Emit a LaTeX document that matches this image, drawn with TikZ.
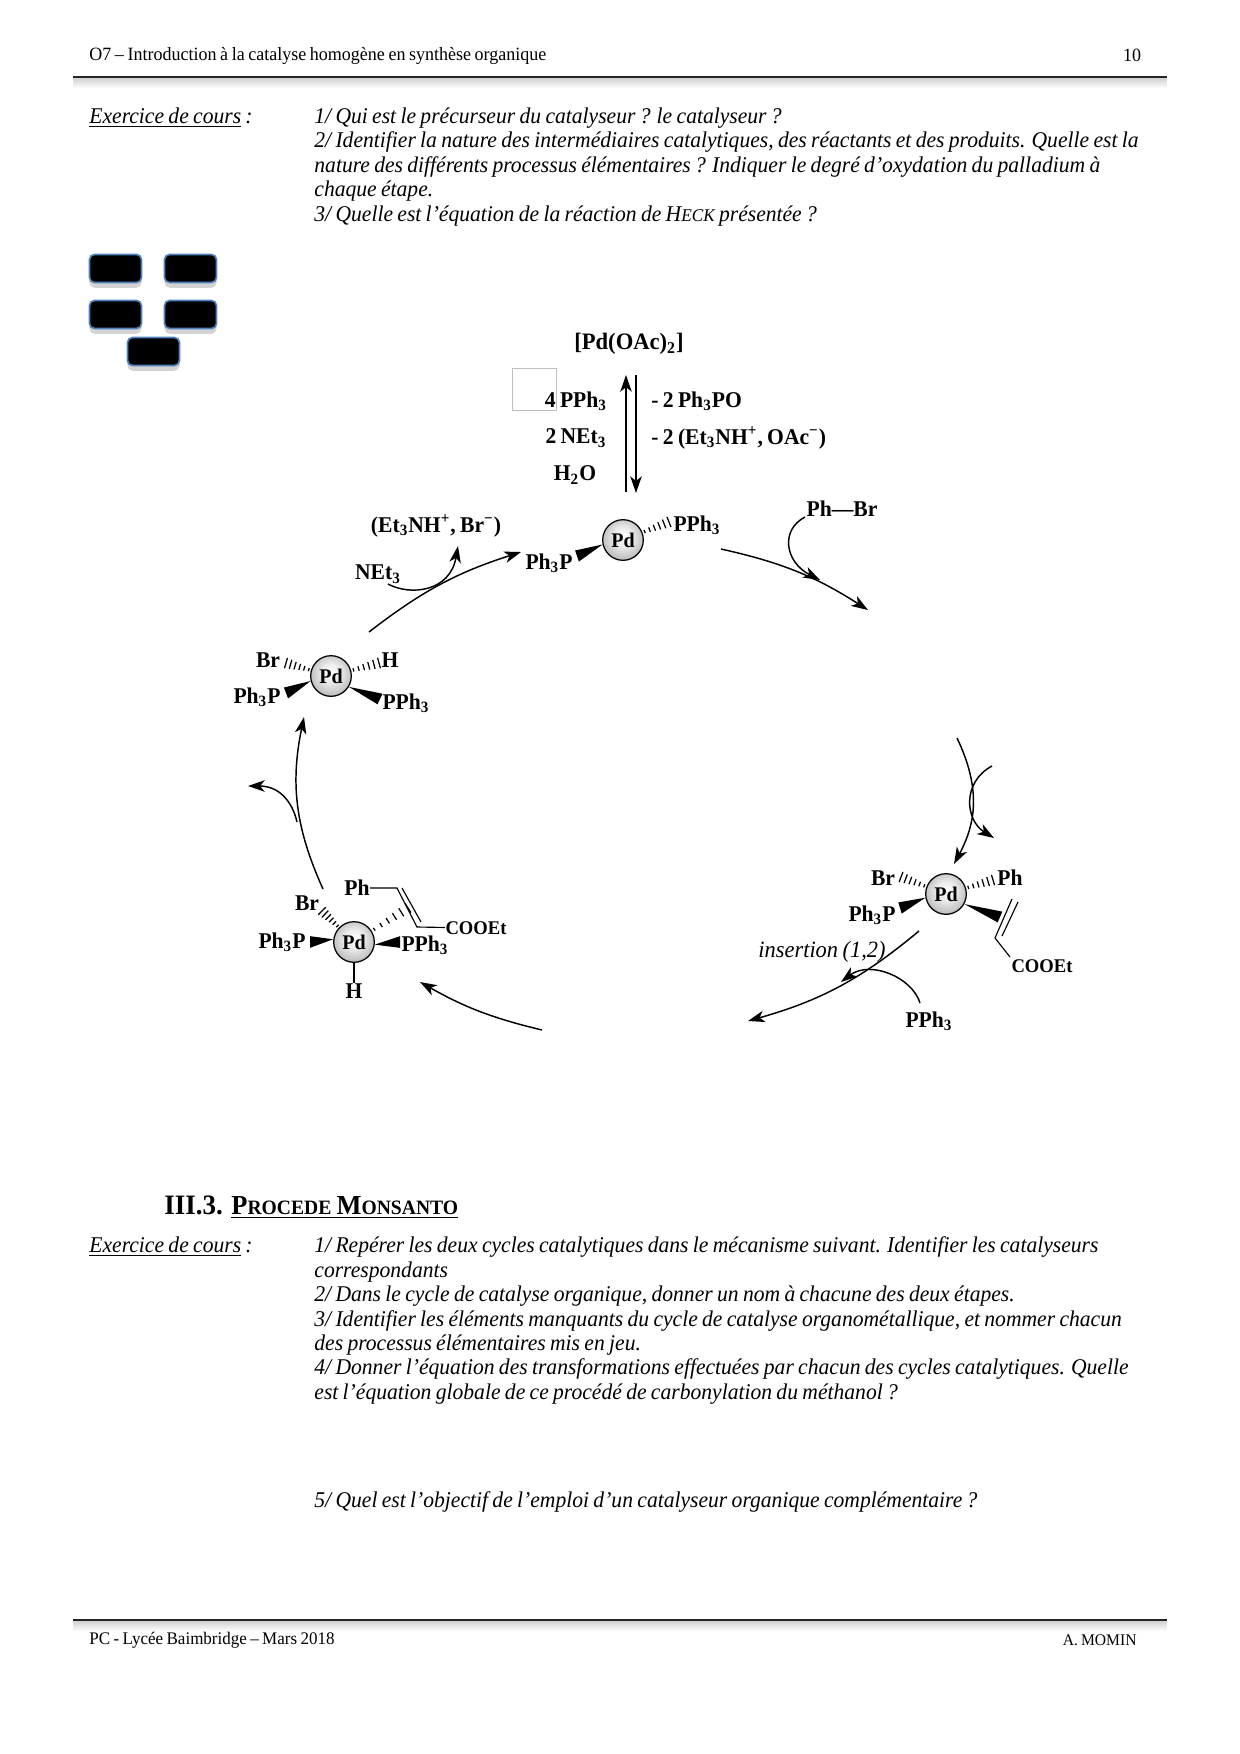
\documentclass[tikz,border=0pt]{standalone}
\usepackage{fontspec}
\setmainfont[FakeStretch=0.96,WordSpace=0.8]{Liberation Serif}
\usetikzlibrary{positioning,arrows.meta,calc,shadows}
\definecolor{boxblue}{RGB}{79,129,189}
\pgfdeclareradialshading{pdsphere}{\pgfpoint{0bp}{5bp}}{color(0bp)=(white); color(12bp)=(white!92!black); color(28bp)=(black!28); color(42bp)=(black!58); color(50bp)=(black!82)}
\newcommand{\sub}[1]{\textsubscript{#1}}
\newcommand{\sur}[1]{\textsuperscript{#1}}
\newcommand{\petit}[2]{{\fontsize{#1}{12}\selectfont #2}}
\newcommand{\hashbond}[2]{%
  \coordinate (hs) at ($(#1)!10.5pt!(#2)$);
  \foreach \f in {0.05,0.24,0.43,0.62,0.81,1.0}{
    \coordinate (hm) at ($(hs)!\f!(#2)$);
    \draw[hashline] ($(hm)!0.7pt+\f*1.9pt!90:(#1)$) -- ($(hm)!0.7pt+\f*1.9pt!-90:(#1)$);
  }}
\newcommand{\wedgebond}[2]{%
  \fill (#1) -- ($(#2)!2.8pt!90:(#1)$) -- ($(#2)!2.8pt!-90:(#1)$) -- cycle;}
\begin{document}
\begin{tikzpicture}[
  x=0.48pt, y=-0.48pt,
  running/.style={inner sep=0, font=\fontsize{9}{11}\selectfont},
  footer/.style={inner sep=0, font=\fontsize{8.5}{11}\selectfont},
  question/.style={inner sep=0, anchor=base west, font=\fontsize{10.8}{13}\selectfont\itshape},
  chem/.style={inner sep=0, font=\fontsize{10.8}{12}\selectfont\bfseries},
  ester/.style={inner sep=0, font=\fontsize{9.3}{11}\selectfont\bfseries},
  pdball/.style={circle, draw, line width=0.6pt, minimum size=19.5pt, inner sep=0, shading=pdsphere, font=\fontsize{10}{11}\selectfont\bfseries},
  hidebox/.style={draw=boxblue, line width=0.8pt, fill=black, rounded corners=2.5pt, minimum width=25pt, minimum height=13.5pt, inner sep=0, drop shadow={shadow xshift=0pt, shadow yshift=-2.5pt, opacity=0.35}},
  arrow/.style={-{Stealth[length=8pt,width=5.5pt,inset=2.2pt]}, line width=0.7pt},
  bond/.style={line width=0.55pt},
  hashline/.style={line width=0.6pt},
  rulebar/.style={line width=0.9pt, draw=black!85},
  rulefade/.style={top color=black!18, bottom color=white, draw=none}
]
\useasboundingbox (0,0) rectangle (1240,1754);

\shade[rulefade] (73,78) rectangle (1167,88);
\draw[rulebar] (73,77) -- (1167,77);
\shade[rulefade] (73,1621) rectangle (1167,1631);
\draw[rulebar] (73,1620) -- (1167,1620);
\node[running, anchor=west] (headtitle) at (89,56) {O7 – Introduction à la catalyse homogène en synthèse organique};
\node[running] (headpage) at (1132,55) {10};
\node[footer, anchor=west] (footleft) at (89,1640) {PC - Lycée Baimbridge – Mars 2018};
\node[footer, anchor=east, font=\fontsize{7.8}{11}\selectfont] (footright) at (1137,1640) {A. MOMIN};

\node[question] (exo1) at (89,123) {\underline{Exercice de cours} :};
\foreach \y/\txt [count=\i] in {
  123/{1/ Qui est le précurseur du catalyseur ? le catalyseur ?},
  147/{2/ Identifier la nature des intermédiaires catalytiques, des réactants et des produits. Quelle est la},
  172/{nature des différents processus élémentaires ? Indiquer le degré d’oxydation du palladium à},
  196/{chaque étape.},
  221/{3/ Quelle est l’équation de la réaction de H\petit{8.6}{ECK} présentée ?}}
  \node[question, name=qa\i] at (314,\y) {\txt};

\node[hidebox] (hide1) at (115.5,268.5) {};
\node[hidebox] (hide2) at (190.5,268.5) {};
\node[hidebox] (hide3) at (115.5,314.5) {};
\node[hidebox] (hide4) at (190.5,314.5) {};
\node[hidebox] (hide5) at (153.5,351.5) {};
\draw[black!25, line width=0.4pt] (512,368) rectangle (556,410);

\node[chem, font=\fontsize{11.3}{13}\selectfont\bfseries] (precat) at (629,344) {[Pd(OAc)\sub{2}]};
\node[chem] (add1) at (576,401) {4 PPh\sub{3}};
\node[chem] (add2) at (576,438) {2 NEt\sub{3}};
\node[chem] (add3) at (575,475) {H\sub{2}O};
\node[chem, anchor=west] (rem1) at (651,401) {- 2 Ph\sub{3}PO};
\node[chem, anchor=west] (rem2) at (651,438) {- 2 (Et\sub{3}NH\sur{+}, OAc\sur{−})};
\coordinate (upfrom) at (626,492);
\coordinate (upto) at (626,375);
\coordinate (downfrom) at (636,375);
\coordinate (downto) at (636,493);
\draw[arrow] (upfrom) -- (upto);
\draw[arrow] (downfrom) -- (downto);

\node[pdball] (pdtop) at (623,540) {Pd};
\node[chem] (toplig1) at (549,563) {Ph\sub{3}P};
\node[chem] (toplig2) at (697,525) {PPh\sub{3}};
\coordinate (topw) at (577,556);
\coordinate (toph) at (669,522);
\wedgebond{pdtop}{topw}
\hashbond{pdtop}{toph}

\node[chem] (arbr) at (842,509) {Ph—Br};
\coordinate (cyc1a) at (721,549);
\coordinate (cyc1b) at (868,610);
\coordinate (arfrom) at (805,517);
\coordinate (arto) at (820,580);
\draw[arrow] (cyc1a) to[bend left=10] (cyc1b);
\draw[arrow] (arfrom) .. controls (780,530) and (785,562) .. (arto);

\node[chem] (baseout) at (436,526) {(Et\sub{3}NH\sur{+}, Br\sur{−})};
\node[chem] (basein) at (378,574) {NEt\sub{3}};
\coordinate (cyc4a) at (369,632);
\coordinate (cyc4b) at (521,552);
\coordinate (basefrom) at (388,584);
\coordinate (baseto) at (458,546);
\draw[arrow] (cyc4a) to[bend left=10] (cyc4b);
\draw[arrow] (basefrom) .. controls (410,596) and (450,592) .. (baseto);

\node[pdball] (pdleft) at (331,676) {Pd};
\node[chem] (leftbr) at (268,660) {Br};
\node[chem] (lefth) at (390,660) {H};
\node[chem] (leftp1) at (257,697) {Ph\sub{3}P};
\node[chem] (leftp2) at (406,703) {PPh\sub{3}};
\coordinate (leftw1) at (286,693);
\coordinate (leftw2) at (380,699);
\coordinate (lefth1) at (286,663);
\coordinate (lefth2) at (379,663);
\wedgebond{pdleft}{leftw1}
\wedgebond{pdleft}{leftw2}
\hashbond{pdleft}{lefth1}
\hashbond{pdleft}{lefth2}

\coordinate (cyc3a) at (323,889);
\coordinate (cyc3b) at (304,717);
\coordinate (alkout) at (297,822);
\coordinate (alkto) at (248,786);
\draw[arrow] (cyc3a) to[bend left=18] (cyc3b);
\draw[arrow] (alkout) .. controls (292,800) and (278,786) .. (alkto);

\node[pdball] (pdbot) at (354,942) {Pd};
\node[chem] (botbr) at (307,903) {Br};
\node[chem] (botph) at (357,888) {Ph};
\node[chem] (botp1) at (282,942) {Ph\sub{3}P};
\node[chem] (botp2) at (425,945) {PPh\sub{3}};
\node[chem] (both) at (354,991) {H};
\node[ester] (botest) at (476,928) {COOEt};
\coordinate (botw1) at (310,942);
\coordinate (botw2) at (400,942);
\coordinate (both1) at (322,911);
\coordinate (both2) at (408,908);
\wedgebond{pdbot}{botw1}
\wedgebond{pdbot}{botw2}
\hashbond{pdbot}{both1}
\hashbond{pdbot}{both2}
\draw[bond] (pdbot) -- (both);
\coordinate (botc1) at (397,888);
\coordinate (botc2) at (417,927);
\coordinate (botd1) at (402,888);
\coordinate (botd2) at (421,922);
\draw[bond] (botph) -- (botc1) -- (botc2) -- (botest);
\draw[bond] (botd1) -- (botd2);

\coordinate (cyc2d) at (542,1030);
\coordinate (cyc2e) at (420,982);
\draw[arrow] (cyc2d) to[bend left=8] (cyc2e);

\node[pdball] (pdright) at (946,894) {Pd};
\node[chem] (rightbr) at (883,878) {Br};
\node[chem] (rightph) at (1010,878) {Ph};
\node[chem] (rightp) at (872,915) {Ph\sub{3}P};
\node[ester] (rightest) at (1042,966) {COOEt};
\coordinate (rightw1) at (900,908);
\coordinate (rightw2) at (1000,917);
\coordinate (righth1) at (901,877);
\coordinate (righth2) at (993,880);
\wedgebond{pdright}{rightw1}
\wedgebond{pdright}{rightw2}
\hashbond{pdright}{righth1}
\hashbond{pdright}{righth2}
\coordinate (rightc1) at (1012,899);
\coordinate (rightc2) at (995,938);
\coordinate (rightc3) at (1010,957);
\coordinate (rightd1) at (1018,902);
\coordinate (rightd2) at (1002,936);
\draw[bond] (rightc1) -- (rightc2) -- (rightc3);
\draw[bond] (rightd1) -- (rightd2);

\coordinate (cyc2a) at (957,738);
\coordinate (cyc2b) at (954,864);
\coordinate (alkin) at (992,766);
\coordinate (alkend) at (994,838);
\draw[arrow] (cyc2a) .. controls (982,790) and (975,825) .. (cyc2b);
\draw[arrow] (alkin) .. controls (962,782) and (965,820) .. (alkend);

\coordinate (cyc2c) at (919,931);
\coordinate (cyc2f) at (748,1021);
\coordinate (ligfrom) at (920,1003);
\coordinate (ligto) at (841,982);
\node[inner sep=0, font=\fontsize{11.2}{13}\selectfont\itshape] (insertlab) at (822,952) {insertion (1,2)};
\node[chem] (ligin) at (929,1021) {PPh\sub{3}};
\draw[arrow] (cyc2c) to[bend right=-12] (cyc2f);
\draw[arrow] (ligfrom) .. controls (912,977) and (870,960) .. (ligto);

\node[inner sep=0, anchor=base west, font=\fontsize{13.5}{16}\selectfont\bfseries] (sectnum) at (164,1214) {III.3.};
\node[inner sep=0, anchor=base west, font=\fontsize{13.2}{16}\selectfont\bfseries] (secttitle) at (231,1214) {\underline{P\petit{9.8}{ROCEDE} M\petit{9.8}{ONSANTO}}};

\node[question] (exo2) at (89,1252) {\underline{Exercice de cours} :};
\foreach \y/\txt [count=\i] in {
  1252/{1/ Repérer les deux cycles catalytiques dans le mécanisme suivant. Identifier les catalyseurs},
  1277/{correspondants},
  1301/{2/ Dans le cycle de catalyse organique, donner un nom à chacune des deux étapes.},
  1326/{3/ Identifier les éléments manquants du cycle de catalyse organométallique, et nommer chacun},
  1350/{des processus élémentaires mis en jeu.},
  1374/{4/ Donner l’équation des transformations effectuées par chacun des cycles catalytiques. Quelle},
  1399/{est l’équation globale de ce procédé de carbonylation du méthanol ?},
  1507/{5/ Quel est l’objectif de l’emploi d’un catalyseur organique complémentaire ?}}
  \node[question, name=qb\i] at (314,\y) {\txt};
\end{tikzpicture}
\end{document}
